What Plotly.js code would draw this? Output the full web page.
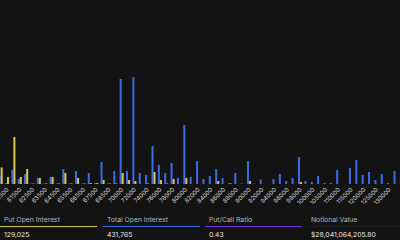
<!DOCTYPE html>
<html>
<head>
<meta charset="utf-8">
<script src="https://cdn.plot.ly/plotly-3.0.1.min.js"></script>
<style>
html,body{margin:0;padding:0;background:#131313;}
#chart{width:400px;height:240px;}
</style>
</head>
<body>
<div id="chart"></div>
<script>
// Strike categories (x axis)
const strikes = [
  "60000","60500","61000","61500","62000","62500","63000","63500","64000","64500",
  "65000","65500","66000","66500","67000","67500","68000","68500","69000","70000",
  "71000","72000","73000","74000","75000","76000","77000","78000","79000","80000",
  "81000","82000","83000","84000","85000","86000","87000","88000","89000","90000",
  "91000","92000","93000","94000","95000","96000","97000","98000","99000","100000",
  "102000","105000","108000","110000","112000","115000","118000","120000","122000","125000",
  "128000","130000","135000","140000","150000"
];
// Call open interest per strike (blue)
const callOI = [
   800,  100, 1400,  500, 1000,   50,  600,   50,  700,   50,
  1500,   50, 1300,   50, 1100,  100, 2200,   50, 1300,10500,
  1300,10700, 1100,  900, 3800, 1900, 1100, 2100,  600, 5900,
   700, 2300,  500,  800, 1500,  600,  100, 1100,   50, 2300,
    50,  450,    0,  500, 1000,  300,  600, 2700,  300,  200,
   800,  100,  100, 1400,    0, 1600, 2400,  900, 1200,  400,
  1000,  100, 1300,  500,  300
];
// Put open interest per strike (yellow)
const putOI = [
  1650,  700, 4700,  700, 1500,   50,  600,   50,  700,   50,
  1100,   50,  600,   50,  100,  100,  400,   50,   50, 1100,
   400,  300,    0,   50, 1200,  400,   50,  500,    0,  600,
     0,    0,    0,    0,  300,    0,   50,    0,    0,  300,
     0,    0,    0,    0,    0,    0,    0,  200,    0,    0,
     0,    0,    0,    0,    0,    0,    0,    0,    0,    0,
     0,    0,    0,    0,    0
];
// Labelled ticks
const tickLabels = [
  "60500","61500","62500","63500","64500","65500","66500","67500","68500","70000",
  "72000","74000","76000","78000","80000","82000","84000","86000","88000","90000",
  "92000","94000","96000","98000","100000","105000","110000","115000","120000","125000",
  "130000","140000","150000"
];
// Summary stats
const statLabels = ["Put Open Interest","Total Open Interest","Put/Call Ratio","Notional Value"];
const statValues = ["129,025","431,765","0.43","$28,041,064,205.80"];
const statColors = ["#d9c452","#3b6be0","#6c35d8","#1c1c1c"];

const W = 400, H = 240, B = 56;
const plotH = H - B;
const px2py = py => (plotH - py) / plotH;

const traces = [
  {type:"bar", name:"Calls", x:strikes, y:callOI, marker:{color:"#3b6be0"}, hoverinfo:"x+y"},
  {type:"bar", name:"Puts", x:strikes, y:putOI, marker:{color:"#d9c452"}, hoverinfo:"x+y"}
];

const colX = [0, 103, 205, 307];
const colW = 97;
const annotations = [];
const shapes = [];
statLabels.forEach((t,i)=>{
  annotations.push({xref:"paper", yref:"paper", x:(colX[i]+2)/W, y:px2py(219), xanchor:"left", yanchor:"middle",
    text:t, showarrow:false, font:{family:"Inter, sans-serif", size:6.8, color:"#b4b4b4"}});
  annotations.push({xref:"paper", yref:"paper", x:(colX[i]+2)/W, y:px2py(234), xanchor:"left", yanchor:"middle",
    text:statValues[i], showarrow:false, font:{family:"Inter, sans-serif", size:6.8, color:"#e8e8e8"}});
  shapes.push({type:"line", xref:"paper", yref:"paper", x0:colX[i]/W, x1:(colX[i]+colW)/W,
    y0:px2py(226.5), y1:px2py(226.5), line:{color:statColors[i], width:1}});
});

const layout = {
  width:W, height:H,
  margin:{l:0, r:0, t:0, b:B, pad:0},
  paper_bgcolor:"#131313", plot_bgcolor:"#131313",
  showlegend:false,
  barmode:"group", bargap:0.36, bargroupgap:0,
  xaxis:{type:"category", range:[-0.1, 62.7], tickmode:"array", tickvals:tickLabels, ticktext:tickLabels,
    tickangle:-45, tickfont:{family:"Inter, sans-serif", size:6, color:"#d2d2d2"},
    showgrid:false, zeroline:false, showline:false, ticks:"", automargin:false},
  yaxis:{range:[0, 18400], showgrid:false, zeroline:false, showticklabels:false, showline:false, ticks:""},
  annotations:annotations, shapes:shapes
};

Plotly.newPlot("chart", traces, layout, {displayModeBar:false, staticPlot:true});
</script>
</body>
</html>
